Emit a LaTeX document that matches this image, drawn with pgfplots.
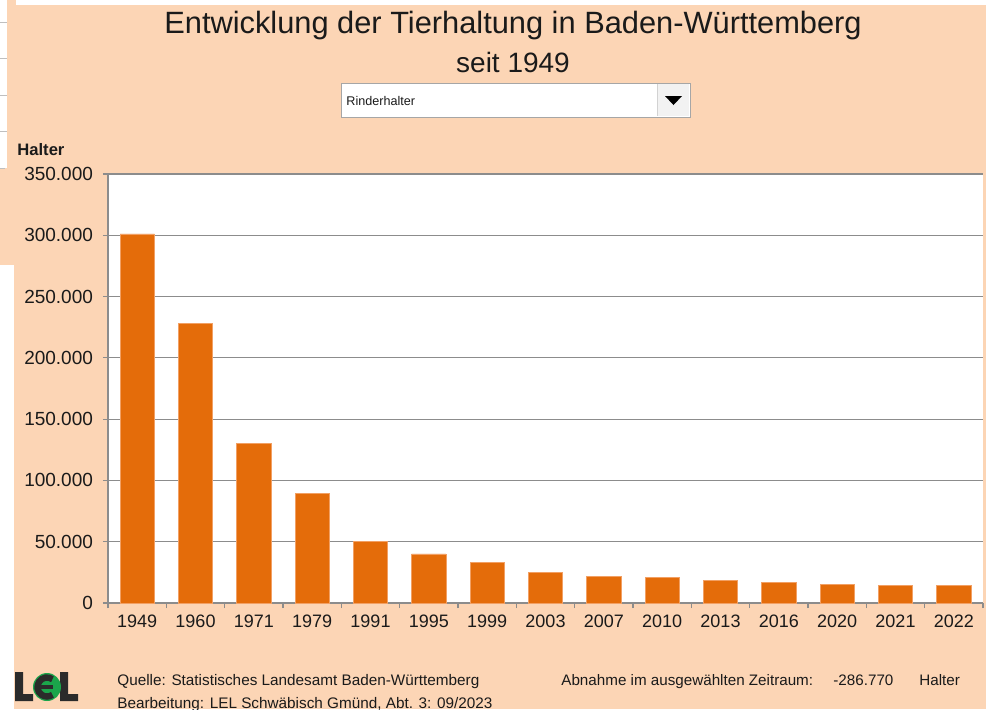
\documentclass[border=0pt]{standalone}
\usepackage{pgfplots}
\pgfplotsset{compat=1.18}
\usepackage{fontspec}
\setmainfont{Liberation Sans}
\definecolor{peach}{HTML}{FCD5B5}
\definecolor{barorange}{HTML}{E46C0A}
\definecolor{baredge}{HTML}{F2A064}
\definecolor{gridgray}{HTML}{8C8C8C}
\definecolor{txt}{HTML}{1A1A1A}
\definecolor{lelgreen}{HTML}{1BA54B}
\definecolor{lelgray}{HTML}{2B2B2B}
\begin{document}
\begin{tikzpicture}
\begin{scope}[x=0.5pt,y=-0.5pt]
\useasboundingbox (0,0) rectangle (986,709);
\fill[white] (0,0) rectangle (986,709);
\fill[peach] (14,5) rectangle (986,709);
\fill[peach] (7,0) rectangle (16,5);
\fill[peach] (7,5) rectangle (14,265);
\fill[peach] (0,168) rectangle (7,265);
\foreach \yy in {22,58,95,131} \draw[gray!50, line width=0.5pt] (0,\yy) -- (7,\yy);
\draw[gray!50,line width=0.5pt] (0,168) -- (5,168);
% title
\node[font=\fontsize{15.4pt}{18pt}\selectfont, text=txt] at (513,26) {Entwicklung der Tierhaltung in Baden-Württemberg};
\node[font=\fontsize{14pt}{17pt}\selectfont, text=txt] at (513,62) {seit 1949};
% dropdown
\fill[white] (341,83) rectangle (690,117);
\fill[gray!10] (657,84) rectangle (689,116);
\draw[gray!70, line width=0.5pt] (341,83) rectangle (690,117);
\draw[gray!35, line width=0.5pt] (657,84) -- (657,116);
\fill[black] (665,96) -- (682,96) -- (673.5,105) -- cycle;
\node[anchor=west, font=\fontsize{6.3pt}{8pt}\selectfont, inner sep=0pt, text=txt] at (346,101) {Rinderhalter};
% y unit label
\node[anchor=west, font=\bfseries\fontsize{8.3pt}{10pt}\selectfont, inner sep=0pt, text=txt] at (17,150) {Halter};
% footer
\node[anchor=base west, font=\fontsize{7.65pt}{9pt}\selectfont, inner sep=0pt, text=txt] at (117,685) {Quelle: Statistisches Landesamt Baden-Württemberg};
\node[anchor=base west, font=\fontsize{7.65pt}{9pt}\selectfont, inner sep=0pt, text=txt] at (117,708) {Bearbeitung: LEL Schwäbisch Gmünd, Abt. 3: 09/2023};
\node[anchor=base west, font=\fontsize{7.6pt}{9pt}\selectfont, inner sep=0pt, text=txt] at (561,685) {Abnahme im ausgewählten Zeitraum:};
\node[anchor=base west, font=\fontsize{7.6pt}{9pt}\selectfont, inner sep=0pt, text=txt] at (833,685) {-286.770};
\node[anchor=base west, font=\fontsize{7.6pt}{9pt}\selectfont, inner sep=0pt, text=txt] at (919,685) {Halter};
% LEL logo
\fill[lelgray] (15,672) -- (23,672) -- (23,694) -- (33,694) -- (33,701) -- (15,701) -- cycle;
\fill[lelgray] (60,672) -- (68,672) -- (68,694) -- (78,694) -- (78,701) -- (60,701) -- cycle;
\begin{scope}[shift={(47,687)}, y=0.5pt]
\fill[lelgreen] (0,0) circle[radius=14];
\draw[lelgray, line width=3.2pt] (55:9.5) arc[start angle=55, end angle=305, radius=9.5];
\fill[lelgray] (-10,-2) rectangle (6,2);
\end{scope}
\end{scope}
\begin{axis}[
  at={(54pt,-301.5pt)}, anchor=south west,
  scale only axis, width=437.5pt, height=214.5pt,
  xmin=-0.5, xmax=14.5, ymin=0, ymax=350000,
  axis background/.style={fill=white},
  axis lines*=left,
  axis line style={gridgray, line width=0.6pt},
  ymajorgrids, grid style={gridgray, line width=0.6pt},
  ytick={0,50000,100000,150000,200000,250000,300000,350000},
  yticklabels={0,50.000,100.000,150.000,200.000,250.000,300.000,350.000},
  xtick={-0.5,0.5,1.5,2.5,3.5,4.5,5.5,6.5,7.5,8.5,9.5,10.5,11.5,12.5,13.5,14.5},
  x tick label as interval,
  xticklabels={1949,1960,1971,1979,1991,1995,1999,2003,2007,2010,2013,2016,2020,2021,2022},
  tick align=outside,
  major tick length=2.5pt,
  tick style={gridgray, line width=0.6pt},
  tick label style={font=\fontsize{9pt}{11pt}\selectfont, text=txt},
  yticklabel style={font=\fontsize{9.5pt}{11pt}\selectfont, xshift=-1.5pt},
  /pgf/number format/assume math mode=true,
  scaled y ticks=false,
  clip=false,
]
\addplot[ybar, bar width=17.15pt, fill=barorange, draw=baredge, line width=0.3pt] coordinates {
(0,301060) (1,228300) (2,130200) (3,89400) (4,50400) (5,40000) (6,33000) (7,24800)
(8,21800) (9,20750) (10,18300) (11,16700) (12,15300) (13,14450) (14,14290)};
\end{axis}
\end{tikzpicture}
\end{document}
